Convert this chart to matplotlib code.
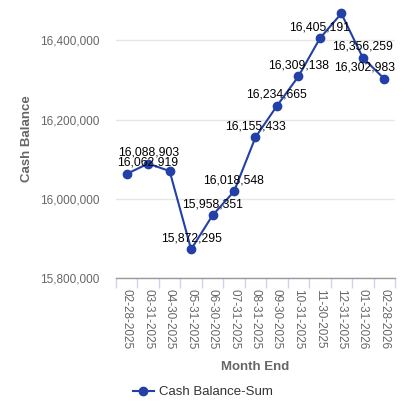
"""
Month-end cash balance line chart
"""

import matplotlib
matplotlib.use("Agg")
import matplotlib.pyplot as plt
from matplotlib.ticker import FuncFormatter
import numpy as np

plt.rcParams["font.family"] = ["Liberation Sans", "DejaVu Sans"]

months = ["02-28-2025", "03-31-2025", "04-30-2025", "05-31-2025",
          "06-30-2025", "07-31-2025", "08-31-2025", "09-30-2025",
          "10-31-2025", "11-30-2025", "12-31-2025", "01-31-2026",
          "02-28-2026"]
cash_balance = [16062919, 16088903, 16070000, 15872295, 15958351, 16018548,
                16155433, 16234665, 16309138, 16405191, 16468000, 16356259,
                16302983]
# labels hidden in the original where they overlapped
show_label = [True, True, False, True, True, True, True, True, True, True,
              False, True, True]
y_ticks = [15800000, 16000000, 16200000, 16400000]

line_color = "#2340a6"
grey_text = "#666666"

fig = plt.figure(figsize=(4.06, 4.08), dpi=100)
ax = fig.add_axes([116 / 406, 1 - 278 / 408, 279 / 406, 278 / 408])

x = np.arange(len(months))
ax.plot(x, cash_balance, color=line_color, linewidth=1.5, marker="o",
        markersize=6, label="Cash Balance-Sum", zorder=3)

n = len(months)
for i, val in enumerate(cash_balance):
    if not show_label[i]:
        continue
    txt = f"{val:,}"
    # end labels are pushed inside the plot area like the original
    if i == 0:
        xy, ha, dx = (-0.5, val), "left", 1
    elif i == n - 1:
        xy, ha, dx = (n - 0.5, val), "right", 0
    else:
        xy, ha, dx = (i, val), "center", 0
    ax.annotate(txt, xy, xytext=(dx, 8), textcoords="offset points",
                ha=ha, va="center", fontsize=8.8, color="black")

# axes formatting
ax.set_xlim(-0.5, n - 0.5)
ax.set_ylim(15800000, 16502000)
ax.set_yticks(y_ticks)
ax.yaxis.set_major_formatter(FuncFormatter(lambda v, p: f"{int(v):,}"))
ax.grid(True, axis="y", color="#e6e6e6", linewidth=1)
ax.set_axisbelow(True)

ax.set_xticks(x)
ax.set_xticklabels(months, rotation=-90, fontsize=8.5, color=grey_text)
ax.set_xticks(np.arange(n + 1) - 0.5, minor=True)
ax.tick_params(axis="x", which="major", length=0, pad=8.2)
ax.tick_params(axis="x", which="minor", length=7.2, width=1, color="#ccd6eb")
ax.tick_params(axis="y", length=0, pad=12, labelsize=8.5, labelcolor=grey_text)

for side in ["top", "right", "left"]:
    ax.spines[side].set_visible(False)
ax.spines["bottom"].set_color("#999999")
ax.spines["bottom"].set_linewidth(1)

ax.set_xlabel("Month End", fontsize=9.5, fontweight="bold", color=grey_text)
ax.xaxis.set_label_coords(0.5, -0.298)
ax.set_ylabel("Cash Balance", fontsize=9.5, fontweight="bold", color=grey_text)
ax.yaxis.set_label_coords(-0.298, 0.5)

fig.legend(loc="lower center", bbox_to_anchor=(0.5, -0.005), frameon=False,
           fontsize=9.5, handlelength=1.6, handletextpad=0.4,
           labelcolor="#333333")

fig.savefig("out.png", dpi=100)
plt.close(fig)
